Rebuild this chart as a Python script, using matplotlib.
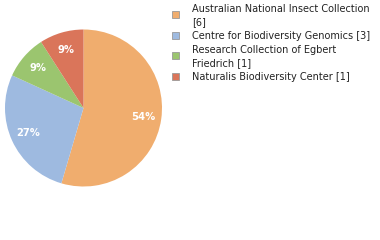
import matplotlib
matplotlib.use("Agg")
import matplotlib.pyplot as plt
from matplotlib.patches import Rectangle

labels = ["Australian National Insect Collection\n[6]",
          "Centre for Biodiversity Genomics [3]",
          "Research Collection of Egbert\nFriedrich [1]",
          "Naturalis Biodiversity Center [1]"]
counts = [6, 3, 1, 1]
colors = ["#f0ad6e", "#9ebae0", "#9bc56f", "#da755a"]

W, H = 380, 240
fig = plt.figure(figsize=(W / 100, H / 100), dpi=100)

cx, cy, r = 83.5, 108, 78.5
ax = fig.add_axes([(cx - r) / W, (H - cy - r) / H, 2 * r / W, 2 * r / H])
wedges, texts, autotexts = ax.pie(counts, colors=colors, startangle=90, counterclock=False,
                                  autopct=lambda p: "%d%%" % int(p),
                                  pctdistance=0.77, radius=1,
                                  wedgeprops=dict(linewidth=0),
                                  textprops=dict(color="white", fontsize=7.2, fontweight="bold"))
ax.set_xlim(-1, 1)
ax.set_ylim(-1, 1)
ax.set_aspect("equal")

# legend drawn by hand, one text per line
text_x = 192
sq_x = 175
sq = 7
line_h = 13
y = 9
for lab, col in zip(labels, colors):
    lines = lab.split("\n")
    mid = y + (len(lines) - 1) * line_h / 2 - 1
    fig.patches.append(Rectangle(((sq_x - sq / 2) / W, 1 - (mid + sq / 2) / H), sq / W, sq / H,
                                 transform=fig.transFigure, facecolor=col,
                                 edgecolor="#999999", linewidth=0.6))
    for ln in lines:
        fig.text(text_x / W, 1 - y / H, ln, fontsize=7, va="center", ha="left",
                 color="#222222")
        y += line_h
    y += 1

fig.savefig("out.png", dpi=100)
